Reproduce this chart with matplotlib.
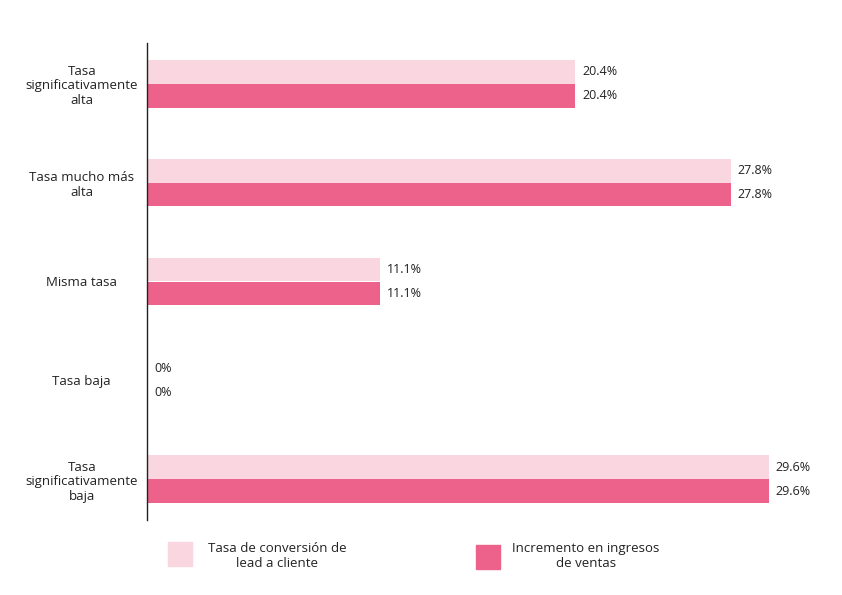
import matplotlib.pyplot as plt
from matplotlib.patches import Rectangle
import numpy as np

categorias = ['Tasa\nsignificativamente\nalta', 'Tasa mucho más\nalta', 'Misma tasa',
              'Tasa baja', 'Tasa\nsignificativamente\nbaja']
conversion = [20.4, 27.8, 11.1, 0, 29.6]   # Tasa de conversión de lead a cliente
ingresos = [20.4, 27.8, 11.1, 0, 29.6]     # Incremento en ingresos de ventas
series = ['Tasa de conversión de\nlead a cliente', 'Incremento en ingresos\nde ventas']

c_claro = '#F9D6E0'
c_fuerte = '#EC628A'
plt.rcParams['font.family'] = ['Open Sans', 'DejaVu Sans']

fig = plt.figure(figsize=(8.42, 5.95), dpi=100)
ax = fig.add_axes([147/842, 1-520/595, 0.98-147/842, 477/595])

y = np.arange(len(categorias))
h = 0.242
b1 = ax.barh(y - h/2, conversion, height=h, color=c_claro)
b2 = ax.barh(y + h/2, ingresos, height=h, color=c_fuerte)

for barras in (b1, b2):
    for r in barras:
        v = r.get_width()
        ax.annotate(f'{v:g}%', (v, r.get_y() + r.get_height()/2), xytext=(5, 0),
                    textcoords='offset points', va='center', ha='left',
                    fontsize=9, color='#222222')

ax.set_xlim(0, (0.98*842-147)/21.0)
ax.set_ylim(len(categorias) - 1 + 0.41, -0.41)
ax.set_yticks(y)
ax.set_yticklabels(categorias, ha='center', multialignment='center', fontsize=9.5,
                   color='#222222', linespacing=1.15)
ax.tick_params(axis='y', length=0, pad=47)
ax.set_xticks([])
for s in ['top', 'right', 'bottom']:
    ax.spines[s].set_visible(False)
ax.spines['left'].set_linewidth(1.0)
ax.spines['left'].set_color('#222222')

# leyenda
for (x0, y0), col, txt, xt in [((168, 542), c_claro, series[0], 277),
                               ((476, 545), c_fuerte, series[1], 586)]:
    fig.patches.append(Rectangle((x0/842, 1-(y0+24)/595), 24/842, 24/595,
                                 transform=fig.transFigure, color=col))
    fig.text(xt/842, 1-556/595, txt, ha='center', va='center', multialignment='center',
             fontsize=9.5, color='#222222', linespacing=1.15)

fig.savefig('out.png', dpi=100)
